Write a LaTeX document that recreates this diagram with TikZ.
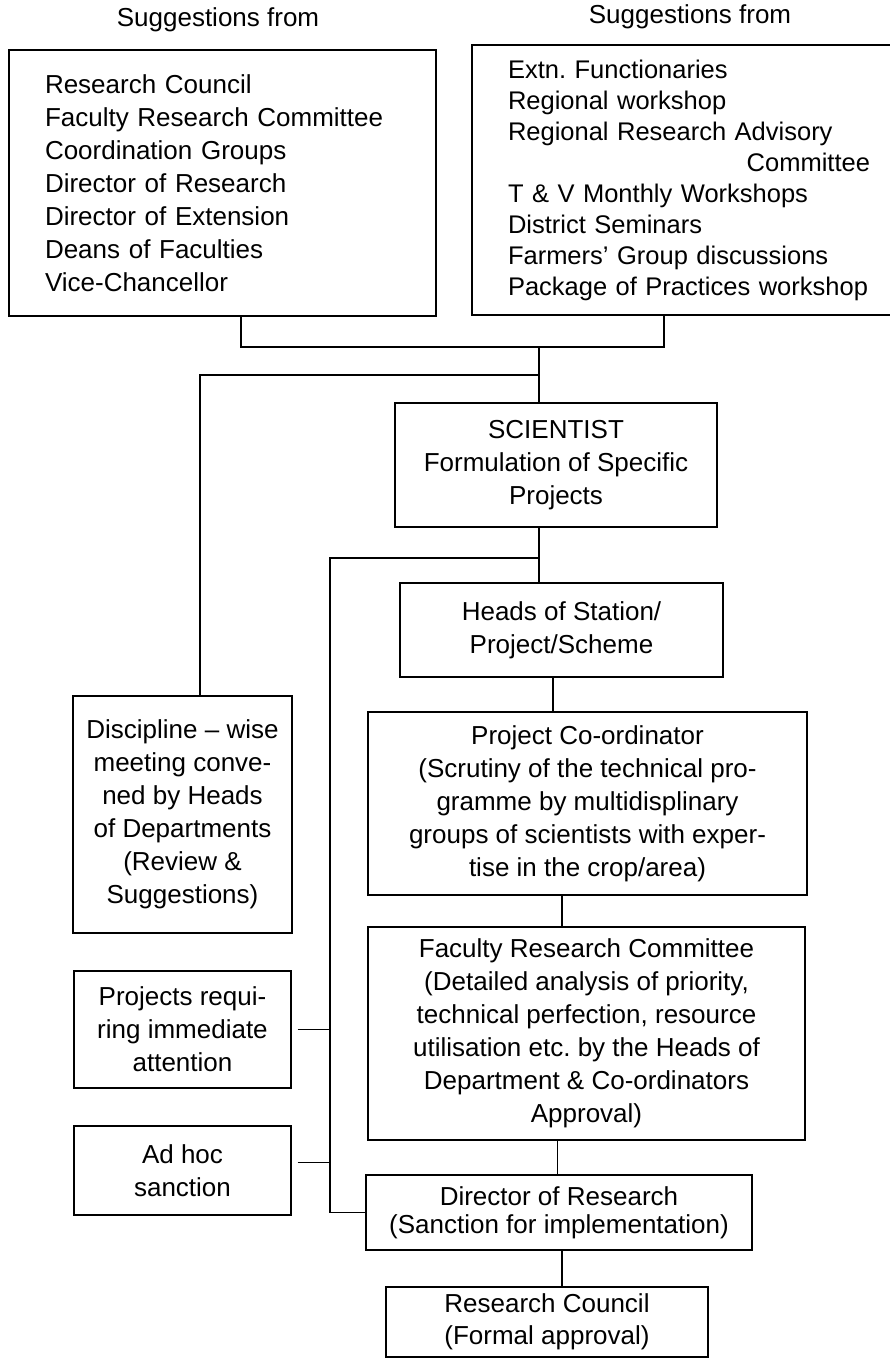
\documentclass[tikz,border=0pt]{standalone}
\usepackage{fontspec}
\setmainfont{Liberation Sans}

\begin{document}
\begin{tikzpicture}[
  x=1pt, y=-1pt,
  box/.style={draw, line width=1.3pt, align=center, inner sep=0pt, font=\fontsize{26}{33}\selectfont},
  list/.style={box, align=left, inner xsep=36pt},
  side/.style={box, minimum width=217},
  head/.style={font=\fontsize{26}{33}\selectfont},
  link/.style={line width=1.3pt}
]
\useasboundingbox (0,0) rectangle (890,1360);

\node[head] (insidehd) at (218,20) {Suggestions from};
\node[head] (outsidehd) at (690,17) {Suggestions from};
\node[list, text width=355pt, minimum height=266] (inside) at (222.5,183) {Research Council\\Faculty Research Committee\\Coordination Groups\\Director of Research\\Director of Extension\\Deans of Faculties\\Vice-Chancellor};
\node[list, text width=362pt, minimum height=270, font=\fontsize{25.5}{31}\selectfont] (outside) at (689,180) {Extn.\ Functionaries\\Regional workshop\\Regional Research Advisory\\\hspace*{\fill}Committee\hspace*{8pt}\\T \& V Monthly Workshops\\District Seminars\\Farmers' Group discussions\\Package of Practices workshop};

\node[box, minimum width=322, minimum height=124] (scientist) at (556,465) {SCIENTIST\\Formulation of Specific\\Projects};
\node[box, minimum width=323, minimum height=94] (heads) at (561.5,630) {Heads of Station/\\Project/Scheme};
\node[box, minimum width=439, minimum height=183] (coord) at (587.5,803.5) {Project Co-ordinator\\(Scrutiny of the technical pro-\\gramme by multidisplinary\\groups of scientists with exper-\\tise in the crop/area)};
\node[box, minimum width=437, minimum height=213] (frc) at (586.5,1033.5) {Faculty Research Committee\\(Detailed analysis of priority,\\technical perfection, resource\\utilisation etc.\ by the Heads of\\Department \& Co-ordinators\\Approval)};
\node[box, minimum width=386, minimum height=75, font=\fontsize{26}{28}\selectfont] (dor) at (559,1212.5) {Director of Research\\(Sanction for implementation)};
\node[box, minimum width=322, minimum height=70, font=\fontsize{26}{32}\selectfont] (council) at (547,1322) {Research Council\\(Formal approval)};

\node[side, minimum width=219, minimum height=237] (discuss) at (182.5,814.5) {Discipline -- wise\\meeting conve-\\ned by Heads\\of Departments\\(Review \&\\Suggestions)};
\node[side, minimum height=117] (urgent) at (182.5,1029.5) {Projects requi-\\ring immediate\\attention};
\node[side, minimum height=89] (adhoc) at (182.5,1170.5) {Ad hoc\\sanction};

\coordinate (mergeL) at (241,347);
\coordinate (mergeR) at (664,347);
\coordinate (merge) at (539,347);
\coordinate (branch) at (200,375);
\coordinate (feed) at (330,558);
\coordinate (stemB) at (553,0);
\coordinate (stemC) at (562,0);
\coordinate (stemD) at (557,0);

\draw[link] (inside.south -| mergeL) -- (mergeL) -- (mergeR) -- (outside.south -| mergeR);
\draw[link] (merge) -- (scientist.north -| merge);
\draw[link] (merge |- branch) -- (branch) -- (discuss.north -| branch);
\draw[link] (scientist.south -| merge) -- (heads.north -| merge);
\draw[link] (merge |- feed) -- (feed) |- (dor.west);
\draw[link] (heads.south -| stemB) -- (coord.north -| stemB);
\draw[link] (coord.south -| stemC) -- (frc.north -| stemC);
\draw[link, line width=0.8pt] (frc.south -| stemD) -- (dor.north -| stemD);
\draw[link] (dor.south -| stemC) -- (council.north -| stemC);
\draw[link, shorten <=6pt] (urgent.east) -- (urgent.east -| feed);
\draw[link, shorten <=6pt] ([yshift=8pt]adhoc.east) -- ([yshift=8pt]adhoc.east -| feed);
\end{tikzpicture}
\end{document}
